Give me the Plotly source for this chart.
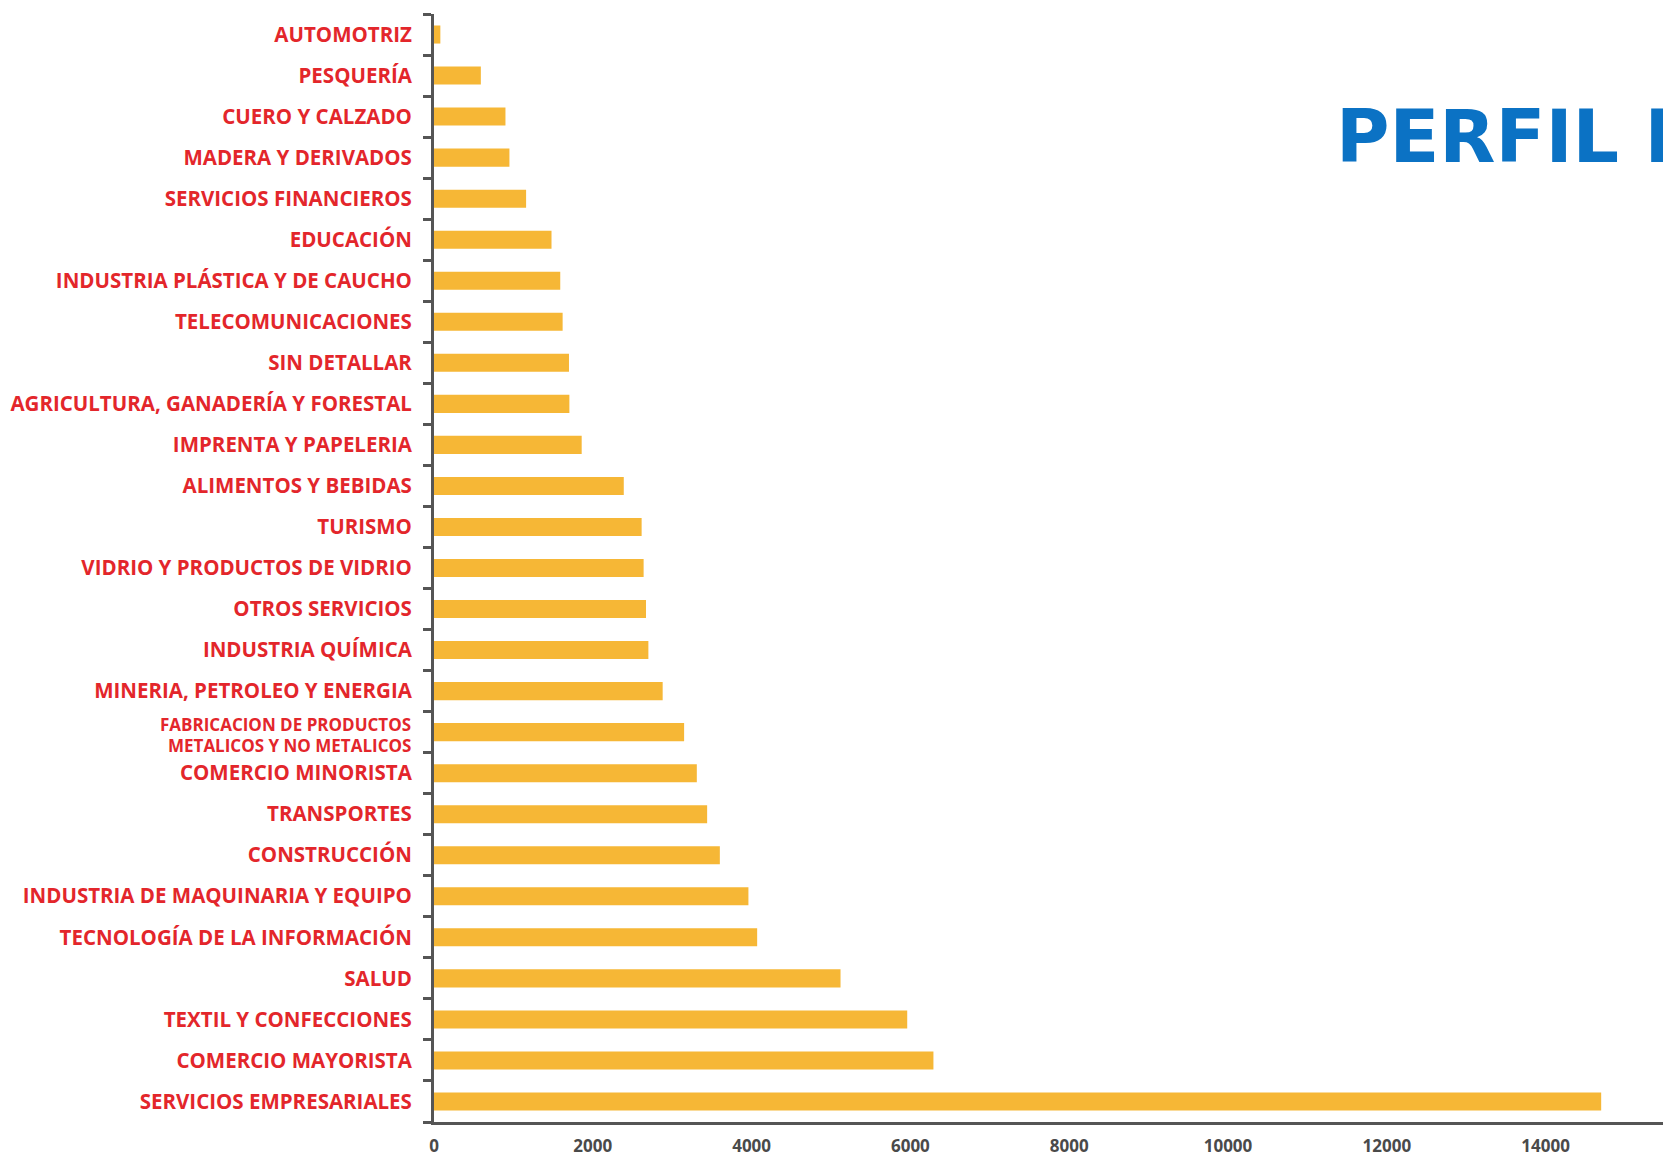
import plotly.graph_objects as go

categories = [
    "AUTOMOTRIZ", "PESQUERÍA", "CUERO Y CALZADO", "MADERA Y DERIVADOS",
    "SERVICIOS FINANCIEROS", "EDUCACIÓN", "INDUSTRIA PLÁSTICA Y DE CAUCHO",
    "TELECOMUNICACIONES", "SIN DETALLAR", "AGRICULTURA, GANADERÍA Y FORESTAL",
    "IMPRENTA Y PAPELERIA", "ALIMENTOS Y BEBIDAS", "TURISMO",
    "VIDRIO Y PRODUCTOS DE VIDRIO", "OTROS SERVICIOS", "INDUSTRIA QUÍMICA",
    "MINERIA, PETROLEO Y ENERGIA",
    "FABRICACION DE PRODUCTOS METALICOS Y NO METALICOS",
    "COMERCIO MINORISTA", "TRANSPORTES", "CONSTRUCCIÓN",
    "INDUSTRIA DE MAQUINARIA Y EQUIPO", "TECNOLOGÍA DE LA INFORMACIÓN",
    "SALUD", "TEXTIL Y CONFECCIONES", "COMERCIO MAYORISTA",
    "SERVICIOS EMPRESARIALES",
]
values = [
    80, 590, 900, 950, 1160, 1480, 1590, 1620, 1700, 1705, 1860, 2390,
    2615, 2640, 2670, 2700, 2880, 3150, 3310, 3440, 3600, 3960, 4070,
    5120, 5960, 6290, 14700,
]
two_line_cat = "FABRICACION DE PRODUCTOS METALICOS Y NO METALICOS"
two_line_parts = ["FABRICACION DE PRODUCTOS", "METALICOS Y NO METALICOS"]
tick_labels = [c if c != two_line_cat else "" for c in categories]
x_ticks = [0, 2000, 4000, 6000, 8000, 10000, 12000, 14000]
title_text = "PERFIL DE LAS EMPRESAS"

W, H = 1663, 1156
L, T, B = 434, 14, 34
RED = "#E3262B"

fig = go.Figure(go.Bar(
    y=categories, x=values, orientation="h",
    marker=dict(color="#F6B736", line=dict(width=0)),
    width=0.44,
))

fig.update_layout(
    width=W, height=H,
    margin=dict(l=L, r=0, t=T, b=B, pad=0),
    plot_bgcolor="white", paper_bgcolor="white",
    showlegend=False,
    font=dict(family="Open Sans"),
)
fig.update_yaxes(
    type="category", automargin=False,
    range=[len(categories) - 0.5, -0.5],
    tickmode="array", tickvals=categories, ticktext=tick_labels,
    tickfont=dict(family="Open Sans", size=20.5, color=RED, weight="bold"),
    showline=True, linewidth=3, linecolor="#555555",
    ticks="outside", tickson="boundaries", ticklen=8, tickwidth=3, tickcolor="#555555",
    ticklabelstandoff=15,
    showgrid=False, zeroline=False,
)
fig.update_xaxes(
    automargin=False,
    range=[0, (W - L) / 0.0794],
    tickmode="array", tickvals=x_ticks, ticktext=[str(v) for v in x_ticks],
    tickfont=dict(family="Open Sans", size=17, color="#4a4a4a", weight="bold"),
    showline=True, linewidth=3, linecolor="#555555",
    ticks="", ticklabelstandoff=7,
    showgrid=False, zeroline=False,
)
for part, shift in zip(two_line_parts, [7.5, -13.5]):
    fig.add_annotation(
        text=part, xref="paper", yref="y", x=0, y=two_line_cat,
        xanchor="right", yanchor="middle", xshift=-21, yshift=shift,
        showarrow=False,
        font=dict(family="Open Sans", size=17, color=RED, weight="bold"),
    )
fig.add_annotation(
    text=title_text, xref="paper", yref="paper",
    x=(1334 - L) / (W - L), y=(H - B - 136) / (H - B - T),
    xanchor="left", yanchor="middle", showarrow=False,
    font=dict(family="DejaVu Sans", size=73, color="#0B72C4", weight="bold"),
)

fig.write_html(
    "out.html",
    config={"displayModeBar": False},
    post_script="document.body.style.margin='0';document.body.style.overflow='hidden';",
)
